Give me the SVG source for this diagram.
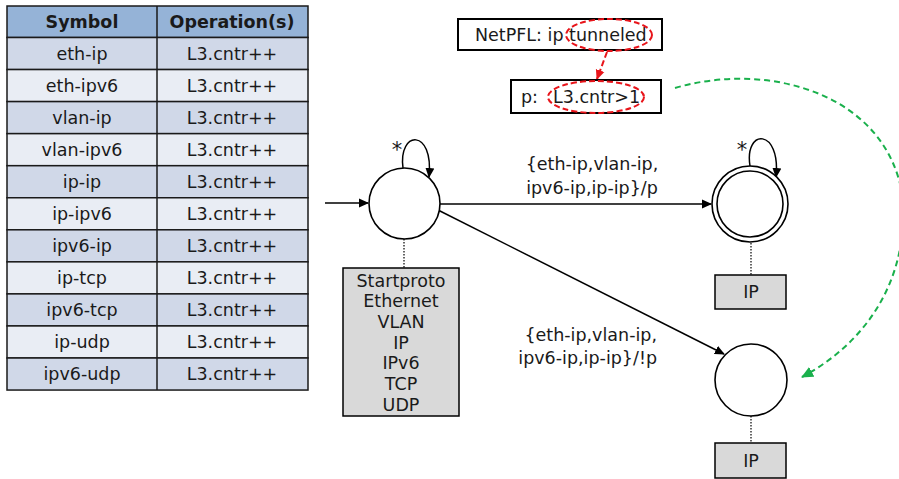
<svg xmlns="http://www.w3.org/2000/svg" width="899" height="479" viewBox="0 0 899 479">
<style>
text{font-family:"DejaVu Sans","Verdana",sans-serif;font-size:17.5px;fill:#1a1a1a;text-anchor:middle}
.h{font-weight:bold}
.s{text-anchor:start}
.ast{font-size:21px}
.cell{stroke:#1a1a1a;stroke-width:1.5}
.dk{fill:#D0D8E8}.lt{fill:#E9EDF4}
.st{fill:#fff;stroke:#000;stroke-width:1.6}
.ln{fill:none;stroke:#000;stroke-width:1.5}
.dot{stroke:#000;stroke-width:1.2;stroke-dasharray:1.5 1.5}
.gbox{fill:#D9D9D9;stroke:#000;stroke-width:1.5}
.wbox{fill:#fff;stroke:#000;stroke-width:2}
.red{fill:none;stroke:#E8141A;stroke-width:2;stroke-dasharray:6 3}
.grn{fill:none;stroke:#1AB04C;stroke-width:2;stroke-dasharray:6 4}
</style>
<defs>
<marker id="a" markerWidth="10" markerHeight="10" refX="9" refY="5" orient="auto" markerUnits="userSpaceOnUse"><path d="M0,0.5 L10,5 L0,9.5 Z" fill="#000"/></marker>
<marker id="r" markerWidth="10" markerHeight="10" refX="9" refY="5" orient="auto" markerUnits="userSpaceOnUse"><path d="M0,0.5 L10,5 L0,9.5 Z" fill="#E8141A"/></marker>
<marker id="g" markerWidth="12" markerHeight="12" refX="11" refY="6" orient="auto" markerUnits="userSpaceOnUse"><path d="M0,0.5 L12,6 L0,11.5 Z" fill="#1AB04C"/></marker>
</defs>

<g id="table">
<rect x="7" y="6" width="301" height="31.5" fill="#95B3D7" class="cell"/>
<text x="82" y="28" class="h">Symbol</text><text x="232" y="28" class="h">Operation(s)</text>
<g id="rows">
<rect x="7" y="37.5" width="301" height="32.05" class="cell dk"/>
<rect x="7" y="69.55" width="301" height="32.05" class="cell lt"/>
<rect x="7" y="101.6" width="301" height="32.05" class="cell dk"/>
<rect x="7" y="133.65" width="301" height="32.05" class="cell lt"/>
<rect x="7" y="165.7" width="301" height="32.05" class="cell dk"/>
<rect x="7" y="197.75" width="301" height="32.05" class="cell lt"/>
<rect x="7" y="229.8" width="301" height="32.05" class="cell dk"/>
<rect x="7" y="261.85" width="301" height="32.05" class="cell lt"/>
<rect x="7" y="293.9" width="301" height="32.05" class="cell dk"/>
<rect x="7" y="325.95" width="301" height="32.05" class="cell lt"/>
<rect x="7" y="358" width="301" height="32.05" class="cell dk"/>
<line x1="157" y1="6" x2="157" y2="390" class="cell"/>
</g>
<text x="82" y="60">eth-ip</text><text x="232" y="60">L3.cntr++</text>
<text x="82" y="92">eth-ipv6</text><text x="232" y="92">L3.cntr++</text>
<text x="82" y="124">vlan-ip</text><text x="232" y="124">L3.cntr++</text>
<text x="82" y="156">vlan-ipv6</text><text x="232" y="156">L3.cntr++</text>
<text x="82" y="188">ip-ip</text><text x="232" y="188">L3.cntr++</text>
<text x="82" y="220">ip-ipv6</text><text x="232" y="220">L3.cntr++</text>
<text x="82" y="252">ipv6-ip</text><text x="232" y="252">L3.cntr++</text>
<text x="82" y="284">ip-tcp</text><text x="232" y="284">L3.cntr++</text>
<text x="82" y="316">ipv6-tcp</text><text x="232" y="316">L3.cntr++</text>
<text x="82" y="348">ip-udp</text><text x="232" y="348">L3.cntr++</text>
<text x="82" y="380">ipv6-udp</text><text x="232" y="380">L3.cntr++</text>
</g>

<g id="connectors">
<line x1="325" y1="203" x2="368" y2="203" class="ln" marker-end="url(#a)"/>
<path d="M403,168 C398,130 434,128 429,177" class="ln" marker-end="url(#a)"/>
<line x1="440" y1="204" x2="711" y2="204" class="ln" marker-end="url(#a)"/>
<path d="M750,166 C744,128 781,128 776,177" class="ln" marker-end="url(#a)"/>
<line x1="438" y1="210" x2="724" y2="354" class="ln" marker-end="url(#a)"/>
<line x1="404" y1="239" x2="404" y2="268" class="dot"/>
<line x1="751" y1="243" x2="751" y2="275" class="dot"/>
<line x1="751" y1="416" x2="751" y2="443" class="dot"/>
<line x1="607" y1="52" x2="597" y2="79" class="red" marker-end="url(#r)"/>
<path d="M675,88 C770,60 890,95 903,200 C908,285 862,345 802,377" class="grn" marker-end="url(#g)"/>
</g>

<g id="start">
<circle cx="404.5" cy="203.5" r="35.5" class="st"/>
<text x="397" y="157" class="ast">*</text>
</g>
<g id="accept">
<circle cx="750" cy="204" r="38" class="st"/>
<circle cx="750" cy="204" r="33" class="st"/>
<text x="742" y="157" class="ast">*</text>
</g>
<g id="reject">
<circle cx="751" cy="380" r="36" class="st"/>
</g>

<g id="lbl1">
<text x="592" y="170">{eth-ip,vlan-ip,</text>
<text x="592" y="194">ipv6-ip,ip-ip}/p</text>
</g>
<g id="lbl2">
<text x="657" y="341" style="text-anchor:end">{eth-ip,vlan-ip,</text>
<text x="657" y="364" style="text-anchor:end">ipv6-ip,ip-ip}/!p</text>
</g>

<g id="protos">
<rect x="343" y="268" width="116" height="148" class="gbox"/>
<text x="401" y="287">Startproto</text>
<text x="401" y="307">Ethernet</text>
<text x="401" y="328">VLAN</text>
<text x="401" y="349">IP</text>
<text x="401" y="369">IPv6</text>
<text x="401" y="390">TCP</text>
<text x="401" y="411">UDP</text>
</g>
<g id="ip1">
<rect x="715" y="275" width="71" height="34" class="gbox"/>
<text x="751" y="298">IP</text>
</g>
<g id="ip2">
<rect x="715" y="443" width="71" height="35" class="gbox"/>
<text x="751" y="467">IP</text>
</g>

<g id="netpfl">
<rect x="458" y="19" width="204" height="31" class="wbox"/>
<text x="475" y="41" class="s">NetPFL: ip tunneled</text>
<ellipse cx="609" cy="35" rx="43" ry="16" class="red"/>
</g>
<g id="pred">
<rect x="511" y="80" width="150" height="33" class="wbox"/>
<text x="521" y="103" class="s">p: <tspan x="553">L3.cntr&gt;1</tspan></text>
<ellipse cx="596" cy="97" rx="48" ry="16" class="red"/>
</g>
</svg>
